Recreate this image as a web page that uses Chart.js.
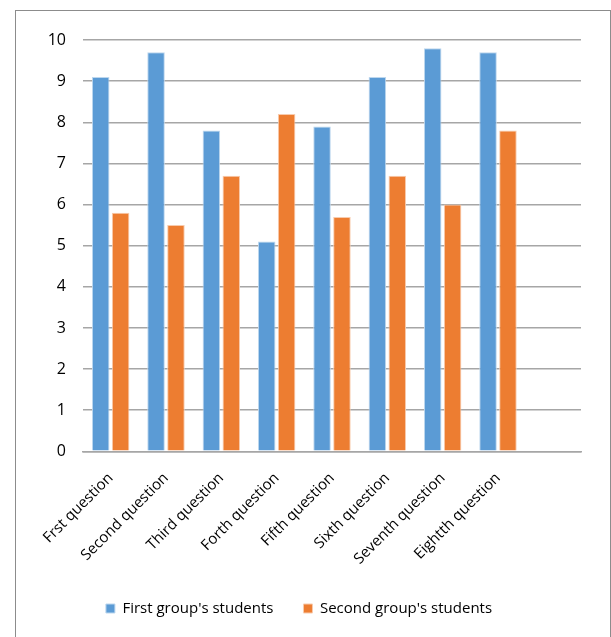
<!DOCTYPE html>
<html>

<head>
    <title>Questions by group</title>
    <script src="https://cdn.jsdelivr.net/npm/chart.js"></script>
    <style>
        body {
            margin: 0;
            background: #fff;
        }

        #frame {
            position: absolute;
            left: 15px;
            top: 10px;
            width: 594px;
            height: 640px;
            border: 1px solid #8c8c8c;
        }
    </style>
</head>

<body>
    <div id="frame">
        <canvas id="myChart" width="594" height="627"></canvas>
    </div>

    <script>
        // Data
        const categories = ['Frst question', 'Second question', 'Third question', 'Forth question',
            'Fifth question', 'Sixth question', 'Seventh question', 'Eightth question', ''];
        const firstGroup = [9.1, 9.7, 7.8, 5.1, 7.9, 9.1, 9.8, 9.7, null];
        const secondGroup = [5.8, 5.5, 6.7, 8.2, 5.7, 6.7, 6.0, 7.8, null];
        const seriesNames = ["First group's students", "Second group's students"];
        const yTicks = [0, 1, 2, 3, 4, 5, 6, 7, 8, 9, 10];

        const font = { family: 'Open Sans', size: 15 };
        const gridGray = '#a6a6a6';

        const ctx = document.getElementById('myChart').getContext('2d');

        const myChart = new Chart(ctx, {
            type: 'bar',
            data: {
                labels: categories,
                datasets: [{
                    label: seriesNames[0],
                    data: firstGroup,
                    backgroundColor: '#5b9bd5',
                    borderColor: '#bdd7ee',
                    borderWidth: 1,
                    categoryPercentage: 0.72,
                    barPercentage: 0.88
                }, {
                    label: seriesNames[1],
                    data: secondGroup,
                    backgroundColor: '#ed7d31',
                    borderColor: '#f8cbad',
                    borderWidth: 1,
                    categoryPercentage: 0.72,
                    barPercentage: 0.88
                }]
            },
            options: {
                responsive: false,
                animation: false,
                layout: {
                    padding: { left: 1, right: 29, top: 29, bottom: 12 }
                },
                scales: {
                    y: {
                        min: yTicks[0],
                        max: yTicks[yTicks.length - 1],
                        afterBuildTicks: (axis) => {
                            axis.ticks = yTicks.map(v => ({ value: v }));
                        },
                        afterFit: (axis) => {
                            axis.width = 66;
                        },
                        grid: { color: gridGray, lineWidth: 1.5, drawTicks: false },
                        border: { display: false },
                        ticks: { color: '#000', font: { family: 'Open Sans', size: 16 }, padding: 17 }
                    },
                    x: {
                        afterFit: (axis) => {
                            axis.height = axis.height - 7;
                        },
                        grid: { display: false },
                        border: { color: gridGray, width: 1.5 },
                        ticks: {
                            color: '#000',
                            font: font,
                            minRotation: 45,
                            maxRotation: 45,
                            autoSkip: false,
                            padding: 10
                        }
                    }
                },
                plugins: {
                    legend: {
                        position: 'bottom',
                        labels: {
                            color: '#000',
                            font: font,
                            boxWidth: 9,
                            boxHeight: 9,
                            padding: 30
                        }
                    },
                    tooltip: { enabled: false }
                }
            }
        });
    </script>
</body>

</html>
